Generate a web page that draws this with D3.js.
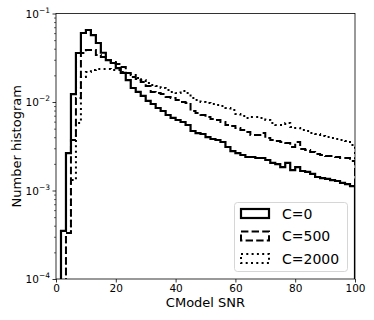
<!DOCTYPE html>
<html>
<head>
<meta charset="utf-8">
<script src="https://cdn.jsdelivr.net/npm/d3@7"></script>
<style>
  html, body { margin: 0; padding: 0; background: #fff; }
  svg { display: block; font-family: "DejaVu Sans", sans-serif; }
</style>
</head>
<body>
<svg id="chart" width="374" height="320"></svg>
<script>
// ---- data ----
const nBins = 60;
const xMin = 0, xMax = 100;
const seriesNames = ["C=0", "C=500", "C=2000"];
const c0 = [0, 0.000349, 0.00265, 0.0123, 0.0358, 0.0602, 0.0651, 0.0571, 0.0464, 0.0360,
  0.0298, 0.0276, 0.0242, 0.0213, 0.0177, 0.0144, 0.0130, 0.0117, 0.0103, 0.00949,
  0.00855, 0.00791, 0.00713, 0.00660, 0.00626, 0.00594, 0.00550, 0.00470, 0.00446, 0.00435,
  0.00402, 0.00382, 0.00372, 0.00353, 0.00310, 0.00279, 0.00265, 0.00252, 0.00239, 0.00239,
  0.00233, 0.00233, 0.00221, 0.00205, 0.00199, 0.00184, 0.00205, 0.00170, 0.00184, 0.00166,
  0.00162, 0.00154, 0.00142, 0.00138, 0.00135, 0.00131, 0.00128, 0.00122, 0.00118, 0.00112];
const c500 = [0, 0, 0.000331, 0.00372, 0.0111, 0.0358, 0.0387, 0.0387, 0.0340, 0.0323,
  0.0298, 0.0283, 0.0269, 0.0249, 0.0213, 0.0192, 0.0182, 0.0168, 0.0152, 0.0130,
  0.0126, 0.0123, 0.0114, 0.0111, 0.01053, 0.0100, 0.00974, 0.00791, 0.00751, 0.00713,
  0.00677, 0.00642, 0.00626, 0.00594, 0.00550, 0.00536, 0.00508, 0.00483, 0.00458, 0.00424,
  0.00424, 0.00446, 0.00392, 0.00372, 0.00362, 0.00353, 0.00344, 0.00310, 0.00353, 0.00294,
  0.00287, 0.00272, 0.00258, 0.00252, 0.00245, 0.00245, 0.00239, 0.00233, 0.00233, 0.00215];
const c2000 = [0, 0, 0.000331, 0.00131, 0.00579, 0.0192, 0.0218, 0.0230, 0.0236, 0.0236,
  0.0236, 0.0230, 0.0230, 0.0218, 0.0213, 0.0202, 0.0187, 0.0177, 0.0164, 0.0156,
  0.0152, 0.0144, 0.0137, 0.0130, 0.0126, 0.0133, 0.0126, 0.0111, 0.01053, 0.0100,
  0.00974, 0.00949, 0.00925, 0.00901, 0.00855, 0.00812, 0.00732, 0.00695, 0.00660, 0.00677,
  0.00677, 0.00660, 0.00626, 0.00579, 0.00550, 0.00550, 0.00579, 0.00522, 0.00508, 0.00483,
  0.00470, 0.00446, 0.00435, 0.00413, 0.00402, 0.00392, 0.00382, 0.00372, 0.00362, 0.00327];
const xTicks = [0, 20, 40, 60, 80, 100];
const yTickExps = [-4, -3, -2, -1];
const xLabel = "CModel SNR";
const yLabel = "Number histogram";

// ---- layout ----
const L = 56, R = 355, T = 13.5, B = 279;
const svg = d3.select("#chart");
const x = d3.scaleLinear().domain([xMin, xMax]).range([L, R]);
const y = d3.scaleLog().domain([1e-4, 1e-1]).range([B, T]);
const edges = d3.range(nBins + 1).map(i => xMin + i * (xMax - xMin) / nBins);

svg.append("defs").append("clipPath").attr("id", "clip")
  .append("rect").attr("x", L).attr("y", T).attr("width", R - L).attr("height", B - T);

function stepPath(vals) {
  const floor = 1e-6;
  const pts = [[x(edges[0]), y(floor)]];
  vals.forEach((v, i) => {
    const yy = y(Math.max(v, floor));
    pts.push([x(edges[i]), yy]);
    pts.push([x(edges[i + 1]), yy]);
  });
  pts.push([x(edges[nBins]), y(floor)]);
  return d3.line()(pts);
}

const styles = [
  { data: c0, dash: null, w: 2.2 },
  { data: c500, dash: "7.4,3.2", w: 2 },
  { data: c2000, dash: "2,3.3", w: 2 }
];

const g = svg.append("g").attr("clip-path", "url(#clip)");
styles.forEach(s => {
  g.append("path").attr("d", stepPath(s.data))
    .attr("fill", "none").attr("stroke", "#000")
    .attr("stroke-width", s.w)
    .attr("stroke-dasharray", s.dash)
    .attr("stroke-linejoin", "miter");
});

// axes
const xAxis = d3.axisBottom(x).tickValues(xTicks).tickSize(3.5).tickPadding(2).tickFormat(d3.format("d"));
const gx = svg.append("g").attr("transform", `translate(0,${B})`).call(xAxis);
gx.select(".domain").remove();
gx.selectAll("text").attr("font-size", 10.5).attr("fill", "#000").attr("font-family", "DejaVu Sans");
gx.selectAll("line").attr("stroke", "#000").attr("stroke-width", 0.8);

// y minor ticks
const minor = [];
yTickExps.slice(0, 3).forEach(e => { for (let k = 2; k <= 9; k++) minor.push(k * Math.pow(10, e)); });
const yAxisMinor = d3.axisLeft(y).tickValues(minor).tickSize(2).tickFormat("");
const gym = svg.append("g").attr("transform", `translate(${L},0)`).call(yAxisMinor);
gym.select(".domain").remove();
gym.selectAll("line").attr("stroke", "#000").attr("stroke-width", 0.6);

const yAxis = d3.axisLeft(y).tickValues(yTickExps.map(e => Math.pow(10, e))).tickSize(3.5).tickFormat("");
const gy = svg.append("g").attr("transform", `translate(${L},0)`).call(yAxis);
gy.select(".domain").remove();
gy.selectAll("line").attr("stroke", "#000").attr("stroke-width", 0.8);

yTickExps.forEach(e => {
  const t = svg.append("text").attr("x", L - 6).attr("y", y(Math.pow(10, e)) + 4)
    .attr("text-anchor", "end").attr("font-size", 10.5).attr("fill", "#000");
  t.append("tspan").text("10");
  t.append("tspan").attr("dy", -5).attr("font-size", 7.5).text("\u2212" + Math.abs(e));
});

// frame
svg.append("rect").attr("x", L).attr("y", T).attr("width", R - L).attr("height", B - T)
  .attr("fill", "none").attr("stroke", "#000").attr("stroke-width", 0.8);

// labels
svg.append("text").attr("x", (L + R) / 2).attr("y", 307).attr("text-anchor", "middle")
  .attr("font-size", 13).attr("fill", "#000").text(xLabel);
svg.append("text").attr("transform", `translate(21,${(T + B) / 2}) rotate(-90)`)
  .attr("text-anchor", "middle").attr("font-size", 13).attr("fill", "#000").text(yLabel);

// legend
const lg = svg.append("g");
lg.append("rect").attr("x", 234.5).attr("y", 202.5).attr("width", 113).attr("height", 69)
  .attr("rx", 3).attr("fill", "#fff").attr("fill-opacity", 0.8)
  .attr("stroke", "#cccccc").attr("stroke-width", 0.8);
seriesNames.forEach((name, i) => {
  const cy = 213.5 + i * 22.5;
  lg.append("rect").attr("x", 241).attr("y", cy - 4.5).attr("width", 28).attr("height", 9)
    .attr("fill", "none").attr("stroke", "#000").attr("stroke-width", styles[i].w)
    .attr("stroke-dasharray", styles[i].dash);
  lg.append("text").attr("x", 282).attr("y", cy + 5).attr("font-size", 14).attr("fill", "#000").text(name);
});
</script>
</body>
</html>
